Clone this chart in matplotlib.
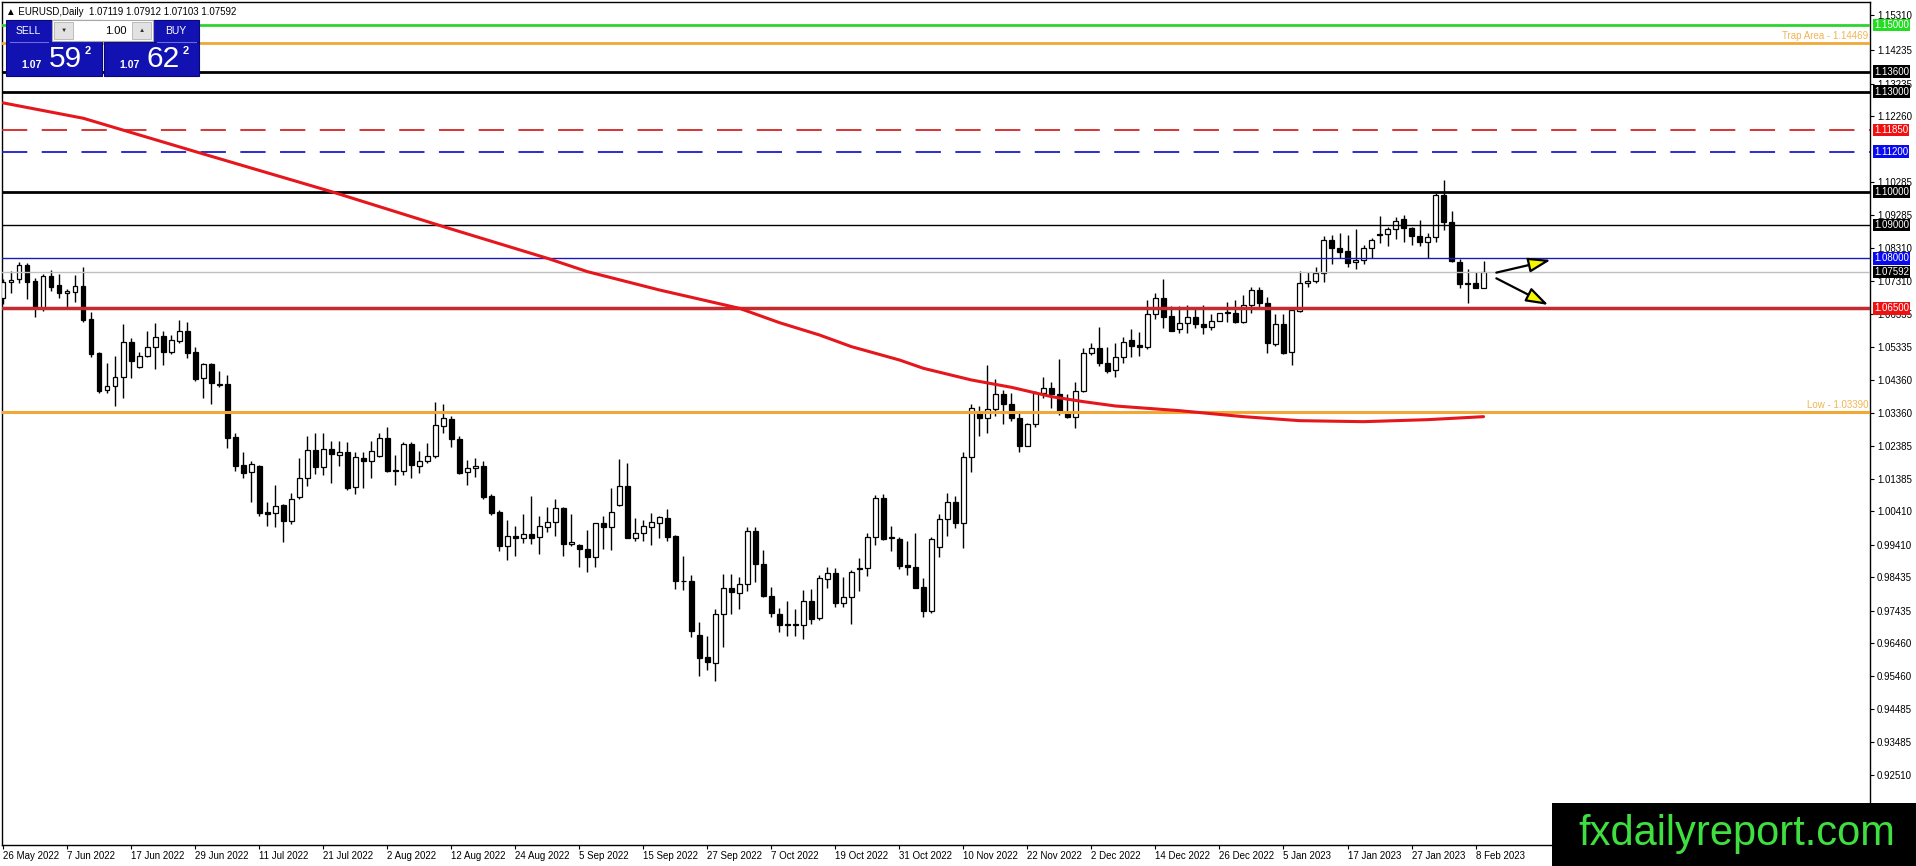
import numpy as np
import matplotlib
matplotlib.use('Agg')
from matplotlib import pyplot as plt
from matplotlib.patches import Rectangle
from matplotlib.lines import Line2D
import matplotlib.transforms as mtransforms

plt.rcParams['font.family'] = ['Liberation Sans', 'DejaVu Sans']

# daily EURUSD candles, 26 May 2022 .. 9 Feb 2023
opens = [1.0680, 1.0728, 1.0737, 1.0780, 1.0732, 1.0650, 1.0747, 1.0720, 1.0695, 1.0700,
         1.0717, 1.0618, 1.0515, 1.0405, 1.0417, 1.0443, 1.0548, 1.0473, 1.0508, 1.0533,
         1.0567, 1.0520, 1.0553, 1.0582, 1.0520, 1.0440, 1.0483, 1.0421, 1.0422, 1.0263,
         1.0180, 1.0158, 1.0177, 1.0040, 1.0035, 1.0060, 1.0013, 1.0083, 1.0140, 1.0225,
         1.0175, 1.0227, 1.0210, 1.0218, 1.0113, 1.0200, 1.0193, 1.0208, 1.0260, 1.0164,
         1.0163, 1.0242, 1.0178, 1.0193, 1.0208, 1.0298, 1.0317, 1.0257, 1.0160, 1.0170,
         1.0177, 1.0087, 1.0038, 0.9938, 0.9967, 0.9960, 0.9972, 0.9963, 0.9995, 1.0010,
         1.0050, 0.9942, 0.9940, 0.9927, 0.9903, 1.0005, 0.9995, 1.0060, 1.0118, 0.9962,
         0.9977, 0.9995, 1.0007, 1.0020, 0.9967, 0.9833, 0.9832, 0.9670, 0.9605, 0.9587,
         0.9732, 0.9810, 0.9795, 0.9823, 0.9982, 0.9882, 0.9787, 0.9732, 0.9702, 0.9701,
         0.9700, 0.9773, 0.9720, 0.9837, 0.9855, 0.9767, 0.9783, 0.9869, 0.9870, 0.9963,
         1.0080, 0.9963, 0.9957, 0.9880, 0.9873, 0.9813, 0.9742, 0.9935, 1.0017, 1.0070,
         1.0007, 1.0205, 1.0337, 1.0322, 1.0347, 1.0392, 1.0362, 1.0320, 1.0238, 1.0302,
         1.0395, 1.0410, 1.0393, 1.0337, 1.0325, 1.0403, 1.0515, 1.0530, 1.0487, 1.0465,
         1.0505, 1.0555, 1.0540, 1.0533, 1.0632, 1.0680, 1.0627, 1.0587, 1.0605, 1.0623,
         1.0602, 1.0595, 1.0613, 1.0638, 1.0637, 1.0610, 1.0660, 1.0705, 1.0665, 1.0543,
         1.0602, 1.0520, 1.0642, 1.0727, 1.0732, 1.0755, 1.0855, 1.0830, 1.0822, 1.0788,
         1.0795, 1.0832, 1.0872, 1.0872, 1.0887, 1.0917, 1.0890, 1.0867, 1.0850, 1.0863,
         1.0990, 1.0908, 1.0788, 1.0725, 1.0725, 1.07119]
highs = [1.0737, 1.0763, 1.0788, 1.0786, 1.0740, 1.0752, 1.0765, 1.0753, 1.0707, 1.0750,
         1.0775, 1.0640, 1.0518, 1.0485, 1.0507, 1.0603, 1.0560, 1.0520, 1.0582, 1.0607,
         1.0582, 1.0570, 1.0615, 1.0608, 1.0533, 1.0487, 1.0487, 1.0462, 1.0450, 1.0277,
         1.0220, 1.0192, 1.0180, 1.0070, 1.0120, 1.0062, 1.0095, 1.0200, 1.0267, 1.0275,
         1.0275, 1.0253, 1.0253, 1.0248, 1.0220, 1.0220, 1.0253, 1.0277, 1.0293, 1.0210,
         1.0250, 1.0250, 1.0222, 1.0245, 1.0368, 1.0363, 1.0327, 1.0267, 1.0195, 1.0200,
         1.0193, 1.0093, 1.0045, 1.0015, 0.9997, 1.0032, 1.0087, 1.0027, 1.0053, 1.0078,
         1.0053, 1.0033, 0.9943, 0.9985, 1.0007, 1.0027, 1.0110, 1.0197, 1.0187, 1.0020,
         1.0015, 1.0037, 1.0027, 1.0048, 0.9970, 0.9908, 0.9850, 0.9708, 0.9667, 0.9748,
         0.9853, 0.9853, 0.9843, 0.9995, 0.9995, 0.9925, 0.9813, 0.9750, 0.9772, 0.9747,
         0.9805, 0.9807, 0.9850, 0.9873, 0.9870, 0.9845, 0.9865, 0.9900, 0.9977, 1.0090,
         1.0093, 0.9997, 0.9965, 0.9952, 0.9975, 0.9840, 0.9963, 1.0032, 1.0095, 1.0087,
         1.0220, 1.0362, 1.0357, 1.0480, 1.0438, 1.0405, 1.0395, 1.0335, 1.0307, 1.0403,
         1.0445, 1.0428, 1.0497, 1.0392, 1.0428, 1.0532, 1.0547, 1.0593, 1.0533, 1.0547,
         1.0565, 1.0587, 1.0578, 1.0675, 1.0695, 1.0738, 1.0657, 1.0657, 1.0660, 1.0647,
         1.0660, 1.0632, 1.0637, 1.0670, 1.0675, 1.0690, 1.0715, 1.0713, 1.0685, 1.0632,
         1.0632, 1.0647, 1.0762, 1.0760, 1.0775, 1.0867, 1.0870, 1.0877, 1.0870, 1.0887,
         1.0840, 1.0860, 1.0927, 1.0895, 1.0925, 1.0930, 1.0895, 1.0915, 1.0875, 1.0997,
         1.1035, 1.0942, 1.0797, 1.0767, 1.0760, 1.07912]
lows = [1.0662, 1.0697, 1.0725, 1.0678, 1.0625, 1.0643, 1.0703, 1.0682, 1.0653, 1.0670,
        1.0610, 1.0505, 1.0397, 1.0395, 1.0357, 1.0382, 1.0442, 1.0470, 1.0505, 1.0467,
        1.0480, 1.0512, 1.0547, 1.0502, 1.0433, 1.0382, 1.0363, 1.0413, 1.0232, 1.0162,
        1.0142, 1.0070, 1.0028, 0.9997, 0.9995, 0.9948, 1.0003, 1.0077, 1.0117, 1.0153,
        1.0150, 1.0127, 1.0177, 1.0105, 1.0093, 1.0112, 1.0140, 1.0203, 1.0160, 1.0120,
        1.0150, 1.0140, 1.0157, 1.0187, 1.0200, 1.0275, 1.0235, 1.0153, 1.0120, 1.0143,
        1.0077, 1.0030, 0.9923, 0.9895, 0.9908, 0.9947, 0.9943, 0.9912, 0.9980, 0.9968,
        0.9908, 0.9938, 0.9875, 0.9860, 0.9873, 0.9927, 0.9925, 1.0058, 0.9962, 0.9953,
        0.9953, 0.9940, 0.9962, 0.9953, 0.9808, 0.9805, 0.9665, 0.9548, 0.9565, 0.9533,
        0.9633, 0.9732, 0.9748, 0.9803, 0.9830, 0.9785, 0.9725, 0.9678, 0.9667, 0.9667,
        0.9657, 0.9703, 0.9715, 0.9810, 0.9755, 0.9753, 0.9702, 0.9803, 0.9847, 0.9940,
        0.9955, 0.9923, 0.9867, 0.9850, 0.9810, 0.9725, 0.9737, 0.9903, 0.9968, 0.9990,
        0.9932, 1.0160, 1.0268, 1.0277, 1.0327, 1.0303, 1.0312, 1.0220, 1.0237, 1.0295,
        1.0380, 1.0352, 1.0330, 1.0320, 1.0290, 1.0398, 1.0510, 1.0478, 1.0457, 1.0443,
        1.0487, 1.0503, 1.0507, 1.0527, 1.0618, 1.0592, 1.0583, 1.0575, 1.0577, 1.0590,
        1.0572, 1.0585, 1.0613, 1.0610, 1.0605, 1.0607, 1.0637, 1.0655, 1.0517, 1.0537,
        1.0513, 1.0480, 1.0638, 1.0713, 1.0725, 1.0730, 1.0782, 1.0800, 1.0775, 1.0767,
        1.0782, 1.0802, 1.0847, 1.0837, 1.0857, 1.0850, 1.0840, 1.0837, 1.0800, 1.0850,
        1.0885, 1.0790, 1.0710, 1.0667, 1.0710, 1.07103]
closes = [1.0728, 1.0735, 1.0780, 1.0730, 1.0650, 1.0747, 1.0715, 1.0695, 1.0703, 1.0717,
          1.0615, 1.0513, 1.0403, 1.0417, 1.0443, 1.0548, 1.0493, 1.0508, 1.0533, 1.0565,
          1.0520, 1.0555, 1.0582, 1.0517, 1.0438, 1.0483, 1.0425, 1.0423, 1.0262, 1.0178,
          1.0157, 1.0182, 1.0037, 1.0032, 1.0058, 1.0013, 1.0077, 1.0140, 1.0225, 1.0175,
          1.0227, 1.0212, 1.0220, 1.0110, 1.0203, 1.0193, 1.0222, 1.0260, 1.0163, 1.0163,
          1.0242, 1.0180, 1.0193, 1.0208, 1.0300, 1.0320, 1.0257, 1.0157, 1.0170, 1.0177,
          1.0085, 1.0037, 0.9938, 0.9967, 0.9960, 0.9972, 0.9960, 0.9997, 1.0010, 1.0050,
          0.9942, 0.9950, 0.9927, 0.9903, 1.0005, 0.9995, 1.0040, 1.0118, 0.9962, 0.9977,
          0.9997, 1.0010, 1.0023, 0.9965, 0.9833, 0.9832, 0.9683, 0.9602, 0.9590, 0.9732,
          0.9810, 0.9800, 0.9822, 0.9982, 0.9882, 0.9788, 0.9735, 0.9700, 0.9701, 0.9702,
          0.9773, 0.9717, 0.9840, 0.9857, 0.9767, 0.9783, 0.9858, 0.9870, 0.9963, 1.0080,
          0.9958, 0.9960, 0.9878, 0.9873, 0.9812, 0.9743, 0.9957, 1.0017, 1.0070, 1.0007,
          1.0205, 1.0350, 1.0322, 1.0347, 1.0392, 1.0362, 1.0322, 1.0238, 1.0302, 1.0395,
          1.0410, 1.0393, 1.0343, 1.0325, 1.0403, 1.0515, 1.0530, 1.0487, 1.0463, 1.0505,
          1.0550, 1.0538, 1.0533, 1.0632, 1.0680, 1.0625, 1.0583, 1.0605, 1.0623, 1.0602,
          1.0595, 1.0613, 1.0635, 1.0635, 1.0610, 1.0660, 1.0705, 1.0665, 1.0545, 1.0602,
          1.0517, 1.0645, 1.0727, 1.0732, 1.0755, 1.0855, 1.0830, 1.0820, 1.0787, 1.0795,
          1.0832, 1.0855, 1.0870, 1.0887, 1.0913, 1.0890, 1.0868, 1.0850, 1.0863, 1.0990,
          1.0908, 1.0793, 1.0723, 1.0724, 1.0710, 1.07592]

# 200-day moving average, sampled along the red curve
ma_bar = [0, 10, 24, 41, 55, 68, 73, 82, 92, 97, 102, 106, 112, 115, 121, 126, 131, 135,
          139, 147, 155, 162, 170, 178, 185]
ma_val = [1.1266, 1.1220, 1.1120, 1.1000, 1.0895, 1.0800, 1.0760, 1.0705, 1.0650, 1.0607,
          1.0570, 1.0535, 1.0495, 1.0470, 1.0435, 1.0413, 1.0385, 1.0370, 1.0357, 1.0343,
          1.0325, 1.0313, 1.0310, 1.0316, 1.0325]

date_labels = ['26 May 2022', '7 Jun 2022', '17 Jun 2022', '29 Jun 2022', '11 Jul 2022',
               '21 Jul 2022', '2 Aug 2022', '12 Aug 2022', '24 Aug 2022', '5 Sep 2022',
               '15 Sep 2022', '27 Sep 2022', '7 Oct 2022', '19 Oct 2022', '31 Oct 2022',
               '10 Nov 2022', '22 Nov 2022', '2 Dec 2022', '14 Dec 2022', '26 Dec 2022',
               '5 Jan 2023', '17 Jan 2023', '27 Jan 2023', '8 Feb 2023']
price_ticks = [1.15310, 1.14235, 1.13235, 1.12260, 1.10285, 1.09285, 1.08310, 1.07310,
               1.06335, 1.05335, 1.04360, 1.03360, 1.02385, 1.01385, 1.00410, 0.99410,
               0.98435, 0.97435, 0.96460, 0.95460, 0.94485, 0.93485, 0.92510]

# horizontal levels: price, colour, width, style, axis box colour (None = no box)
levels = [(1.15000, '#2ed42e', 2.0, '-', '#22dd22'),
          (1.14469, '#f0a838', 2.0, '-', None),
          (1.13600, 'black', 2.0, '-', 'black'),
          (1.13000, 'black', 2.0, '-', 'black'),
          (1.11850, '#d42424', 1.3, (0, (14, 8)), '#f01010'),
          (1.11200, '#1a1ad0', 1.3, (0, (14, 8)), '#0a0af0'),
          (1.10000, 'black', 2.0, '-', 'black'),
          (1.09000, 'black', 1.0, '-', 'black'),
          (1.08000, '#1a1ab8', 1.0, '-', '#0a0af0'),
          (1.07592, '#c0c0c0', 1.0, '-', 'black'),
          (1.06500, '#c42a2e', 2.5, '-', '#ee1111'),
          (1.03390, '#f0a838', 2.2, '-', None)]
level_notes = [(1.14469, 'Trap Area - 1.14469'), (1.03390, 'Low - 1.03390')]

W, H = 1916, 866
fig = plt.figure(figsize=(W / 100, H / 100), dpi=100)
ax = fig.add_axes([2 / W, 21 / H, 1868 / W, 843 / H])

o = np.array(opens)
h = np.array(highs)
l = np.array(lows)
c = np.array(closes)
x = np.arange(len(o))
up = c >= o

ax.vlines(x, l, h, color='black', linewidth=1, zorder=3)
ax.bar(x[up], c[up] - o[up], bottom=o[up], width=0.55, facecolor='white',
       edgecolor='black', linewidth=0.9, zorder=4)
ax.bar(x[~up], o[~up] - c[~up], bottom=c[~up], width=0.55, facecolor='black',
       edgecolor='black', linewidth=0.9, zorder=4)

yax = ax.get_yaxis_transform()
for val, col, lw, ls, box in levels:
    ax.axhline(val, color=col, linewidth=lw, linestyle=ls, zorder=5)
    if box is not None:
        ax.text(1.0022, val, f'{val:.5f}', transform=yax, color='white', fontsize=7,
                ha='left', va='center', zorder=10, clip_on=False,
                bbox=dict(boxstyle='square,pad=0.13', fc=box, ec='none'))
for val, txt in level_notes:
    ax.annotate(txt, xy=(0.999, val), xycoords=yax, xytext=(0, 1.2),
                textcoords='offset points', ha='right', va='bottom',
                color='#f2b452', fontsize=7, zorder=6)

ax.plot(ma_bar, ma_val, color='#e5161c', linewidth=2.2, zorder=6, solid_capstyle='round')

# arrows: possible next moves
arrow_kw = dict(arrowstyle='-|>,head_length=0.9,head_width=0.3', fc='#f5f500', ec='black',
                lw=1.6, mutation_scale=15, shrinkA=0, shrinkB=0)
ax.annotate('', xy=(193.4, 1.0795), xytext=(186.6, 1.0757), arrowprops=arrow_kw, zorder=7)
ax.annotate('', xy=(193.1, 1.0660), xytext=(186.6, 1.0740), arrowprops=arrow_kw, zorder=7)

ax.set_xlim(-0.16, 233.3)
ax.set_ylim(0.90403, 1.15687)
ax.yaxis.tick_right()
ax.set_yticks(price_ticks)
ax.set_yticklabels([f'{v:.5f}' for v in price_ticks])
ax.set_xticks(np.arange(0, 8 * len(date_labels), 8))
ax.set_xticklabels(date_labels, ha='left')
ax.tick_params(axis='y', labelsize=7, length=3, pad=2, width=0.8)
ax.tick_params(axis='x', labelsize=7, length=3, pad=1, width=0.8)
for s in ax.spines.values():
    s.set_color('black')
    s.set_linewidth(1)


def px_rect(x0, y0, x1, y1, **kw):
    fig.add_artist(Rectangle((x0 / W, 1 - y1 / H), (x1 - x0) / W, (y1 - y0) / H,
                             transform=fig.transFigure, zorder=10, **kw))


def px_text(xp, yp, s, **kw):
    fig.text(xp / W, 1 - yp / H, s, zorder=11, **kw)


def px_line(x0, y0, x1, y1, **kw):
    fig.add_artist(Line2D([x0 / W, x1 / W], [1 - y0 / H, 1 - y1 / H],
                          transform=fig.transFigure, zorder=11, **kw))


# header and one-click trading panel
px_text(6, 12, '\u25b2 EURUSD,Daily  1.07119 1.07912 1.07103 1.07592', fontsize=7,
        va='center', ha='left', color='black')
blue = '#1212b2'
px_rect(6, 20, 102, 76, facecolor=blue, edgecolor='#08087a', linewidth=0.8)
px_rect(104, 42, 199, 76, facecolor=blue, edgecolor='#08087a', linewidth=0.8)
px_rect(153, 20, 199, 42, facecolor=blue, edgecolor='#08087a', linewidth=0.8)
px_rect(52, 20, 153, 41, facecolor='white', edgecolor='#a8a8a8', linewidth=0.8)
px_rect(54, 22, 73, 39, facecolor='#e2e2e2', edgecolor='#b4b4b4', linewidth=0.6)
px_rect(132, 22, 151, 39, facecolor='#e2e2e2', edgecolor='#b4b4b4', linewidth=0.6)
px_text(63.5, 30.5, '\u25bc', fontsize=4.5, ha='center', va='center', color='#303030')
px_text(141.5, 30.5, '\u25b2', fontsize=4.5, ha='center', va='center', color='#303030')
px_text(127, 30.5, '1.00', fontsize=8, ha='right', va='center', color='black')
px_line(10, 42, 48, 42, color='#6a6ae6', linewidth=0.8)
px_line(157, 42, 196, 42, color='#6a6ae6', linewidth=0.8)
px_text(28, 31, 'SELL', fontsize=7.5, ha='center', va='center', color='white')
px_text(176, 31, 'BUY', fontsize=7.5, ha='center', va='center', color='white')
for x0, big in [(6, '59'), (104, '62')]:
    px_text(x0 + 26, 65, '1.07', fontsize=7.5, fontweight='bold', ha='center',
            va='center', color='white')
    px_text(x0 + 59, 59, big, fontsize=21.5, ha='center', va='center', color='white')
    px_text(x0 + 82, 51, '2', fontsize=8, fontweight='bold', ha='center', va='center',
            color='white')

# watermark
px_rect(1552, 803, 1916, 866, facecolor='black', edgecolor='none')
px_text(1737, 845, 'fxdailyreport.com', fontsize=30, ha='center', va='baseline',
        color='#3fdf3f')

fig.savefig('out.png', dpi=100)
